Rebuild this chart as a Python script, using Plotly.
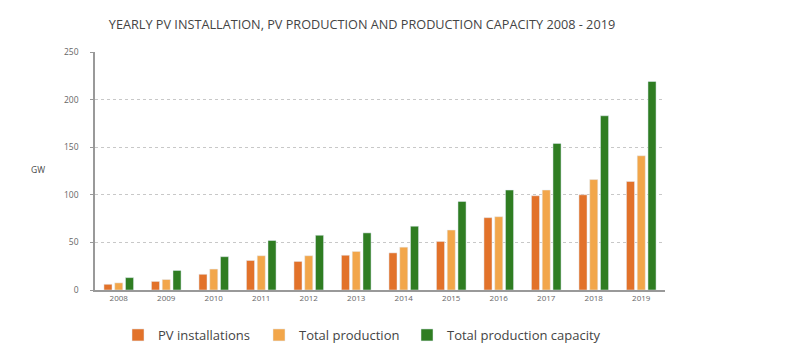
import plotly.graph_objects as go

years = ["2008", "2009", "2010", "2011", "2012", "2013", "2014", "2015", "2016", "2017", "2018", "2019"]
pv_installations = [6, 9, 16.5, 31, 30, 36.5, 39, 51, 76, 99, 100, 114]
total_production = [7.5, 11, 22, 36, 36, 40.5, 45, 63, 77, 105, 116, 141]
production_capacity = [13, 20.5, 35, 52, 57.5, 60, 67, 93, 105, 154, 183, 219]

L, R, T, B = 95, 122, 52, 60
W, H = 787, 350
pw, ph = W - L - R, H - T - B

fig = go.Figure()
fig.add_trace(go.Bar(x=years, y=pv_installations, name="PV installations", marker_color="#E2722A",
                     legend="legend"))
fig.add_trace(go.Bar(x=years, y=total_production, name="Total production", marker_color="#F2A64A",
                     legend="legend2"))
fig.add_trace(go.Bar(x=years, y=production_capacity, name="Total production capacity", marker_color="#2F7D22",
                     legend="legend3"))


def leg(px_x):
    return dict(orientation="h", x=(px_x - L) / pw, xanchor="left",
                y=-(335 - 290) / ph, yanchor="middle", bgcolor="rgba(0,0,0,0)",
                font=dict(size=13, color="#444"), itemwidth=30)


fig.update_layout(
    width=W, height=H,
    margin=dict(l=L, r=R, t=T, b=B, autoexpand=False),
    paper_bgcolor="white", plot_bgcolor="white",
    barmode="group", bargap=0.32, bargroupgap=0.25,
    font=dict(family="Open Sans", color="#555"),
    title=dict(text="YEARLY PV INSTALLATION, PV PRODUCTION AND PRODUCTION CAPACITY 2008 - 2019",
               x=(362) / W, xanchor="center", y=1 - 25 / H, yanchor="middle",
               font=dict(size=12.7, color="#444", family="Open Sans")),
    showlegend=True,
    legend=leg(118),
    legend2=leg(259),
    legend3=leg(407),
    xaxis=dict(showline=True, linecolor="#999", linewidth=1.5, ticks="", tickfont=dict(size=8, color="#666"),
               showgrid=False),
    yaxis=dict(range=[0, 250], dtick=50, showline=True, linecolor="#999", linewidth=1.5,
               ticks="outside", ticklen=3, tickcolor="#999", ticklabelstandoff=10,
               tickfont=dict(size=8.5, color="#666"), showgrid=True, gridcolor="#c8c8c8",
               griddash="dot", gridwidth=1, zeroline=False),
    annotations=[dict(text="GW", x=(38 - L) / pw, y=(290 - 169) / ph, xref="paper", yref="paper",
                      xanchor="center", yanchor="middle", showarrow=False,
                      font=dict(size=8.5, color="#444"))],
)
fig.write_html("out.html")
